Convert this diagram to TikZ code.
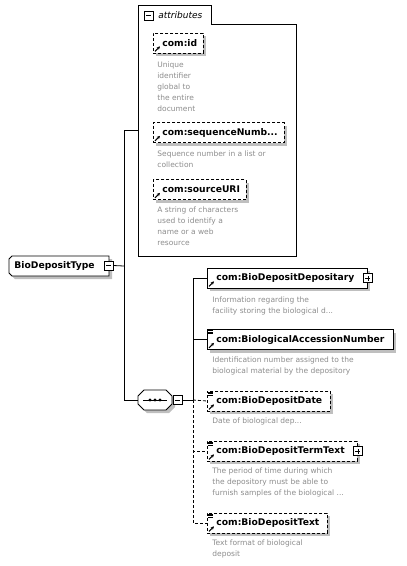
\documentclass[tikz,border=0pt]{standalone}
\usepackage{fontspec}
\setmainfont{DejaVu Sans}
\usetikzlibrary{shadows,arrows.meta}

\begin{document}
\begin{tikzpicture}[x=1pt, y=-1pt, line width=0.8pt]
  \tikzset{
    box_shadow/.style={general shadow={fill=black!25, shadow xshift=3pt, shadow yshift=-3pt}},
    elem_node/.style={rectangle, draw, fill=white, box_shadow, anchor=west, minimum height=20pt, inner xsep=0pt, inner ysep=0pt, text width=#1, align=left, font=\bfseries\fontsize{9.2}{10}\selectfont, execute at begin node={\hspace*{9pt}}},
    opt_node/.style={elem_node=#1, dash pattern=on 3pt off 2pt},
    desc_node/.style={anchor=north west, inner sep=0pt, align=left, text=black!45, font=\fontsize{7.5}{11}\selectfont},
    minus_node/.style={rectangle, draw, fill=white, line width=0.6pt, minimum size=9pt, inner sep=0pt,
      path picture={\draw[line width=0.6pt] ([xshift=2pt]path picture bounding box.west) -- ([xshift=-2pt]path picture bounding box.east);}},
    plus_node/.style={rectangle, draw, fill=white, line width=0.6pt, minimum size=9pt, inner sep=0pt,
      path picture={\draw[line width=0.6pt] ([xshift=2pt]path picture bounding box.west) -- ([xshift=-2pt]path picture bounding box.east)
        ([yshift=2pt]path picture bounding box.south) -- ([yshift=-2pt]path picture bounding box.north);}},
    shadow_fill/.style={fill=black!25, draw=none},
    link_arrow/.style={-{Stealth[length=3.2pt,width=3.2pt]}, line width=1pt}
  }
  \useasboundingbox (0,0) rectangle (407,566);

  % Tipo complejo
  \fill[shadow_fill] (15,259) -- (112,259) -- (112,279) -- (15,279) -- (12,276) -- (12,262) -- cycle;
  \draw[fill=white] (12,256) -- (109,256) -- (109,276) -- (12,276) -- (9,273) -- (9,259) -- cycle;
  \node[anchor=west, inner sep=0pt, font=\bfseries\fontsize{9.2}{10}\selectfont] (bio_type) at (14,266) {BioDepositType};
  \node[minus_node] (type_minus) at (108.5,265.5) {};

  % Marco de atributos
  \draw (138,256) -- (138,5) -- (211,5) -- (211,24) -- (296,24) -- (296,256) -- cycle;
  \node[minus_node] (attrs_minus) at (148.5,15.5) {};
  \node[anchor=west, inner sep=0pt, font=\itshape\fontsize{9}{10}\selectfont] (attrs_title) at (158,15) {attributes};
  \coordinate (attrs_in) at (138,130);

  % Atributos
  \node[opt_node=50pt] (id_attr) at (153,43) {com:id};
  \node[desc_node] (id_desc) at (157,61) {Unique\\identifier\\global to\\the entire\\document};
  \node[opt_node=131pt] (seq_num_attr) at (153,132.5) {com:sequenceNumb...};
  \node[desc_node] (seq_num_desc) at (157,150) {Sequence number in a list or\\collection};
  \node[opt_node=93pt] (source_uri_attr) at (153,189.5) {com:sourceURI};
  \node[desc_node] (source_uri_desc) at (157,206) {A string of characters\\used to identify a\\name or a web\\resource};

  % Secuencia
  \fill[shadow_fill] (147,393) -- (169,393) -- (175,399) -- (175,407) -- (169,413) -- (147,413) -- (141,407) -- (141,399) -- cycle;
  \draw[fill=white] (144,390) -- (166,390) -- (172,396) -- (172,404) -- (166,410) -- (144,410) -- (138,404) -- (138,396) -- cycle;
  \node[inner sep=0pt, minimum width=34pt, minimum height=20pt] (seq_node) at (155,400) {};
  \draw ([xshift=-12pt]seq_node.center) -- ([xshift=12pt]seq_node.center);
  \foreach \dx in {-5,0,5}
    \fill ([xshift=\dx pt]seq_node.center) circle (1.6pt);
  \node[minus_node] (seq_minus) at (177.5,400) {};

  % Elementos hijos
  \node[elem_node=160pt] (depositary) at (207,278) {com:BioDepositDepositary};
  \node[plus_node] (depositary_plus) at (depositary.east) {};
  \node[desc_node] (depositary_desc) at (212,296) {Information regarding the\\facility storing the biological d...};
  \node[elem_node=186pt] (accession) at (207,339.5) {com:BiologicalAccessionNumber};
  \node[desc_node] (accession_desc) at (212,356) {Identification number assigned to the\\biological material by the depository};
  \node[opt_node=123pt] (deposit_date) at (207,401) {com:BioDepositDate};
  \node[desc_node] (deposit_date_desc) at (212,417) {Date of biological dep...};
  \node[opt_node=150pt] (term_text) at (207,451) {com:BioDepositTermText};
  \node[plus_node] (term_plus) at (term_text.east) {};
  \node[desc_node] (term_text_desc) at (212,467) {The period of time during which\\the depository must be able to\\furnish samples of the biological ...};
  \node[opt_node=120pt] (deposit_text) at (207,523) {com:BioDepositText};
  \node[desc_node] (deposit_text_desc) at (212,539) {Text format of biological\\deposit};

  % Iconos
  \foreach \n in {id_attr,seq_num_attr,source_uri_attr,depositary,accession,deposit_date,term_text,deposit_text}
    \draw[link_arrow] ([shift={(2,-2)}]\n.south west) -- ++(5,-5);
  \foreach \n in {accession,deposit_date,term_text,deposit_text}
    \foreach \dy in {1.5,3,4.5}
      \draw[line width=0.5pt] ([shift={(1,\dy)}]\n.north west) -- ++(5,0);

  % Conexiones
  \coordinate (trunk) at (124,266);
  \coordinate (fork) at (193,400);
  \draw (type_minus.east) -- (trunk);
  \draw (trunk) |- (attrs_in);
  \draw (trunk) |- (seq_node.west);
  \draw (seq_minus.east) -- (fork);
  \draw (fork) |- (depositary.west);
  \draw (fork) |- (accession.west);
  \draw[dash pattern=on 3pt off 2pt] (fork) -- (deposit_date.west);
  \draw[dash pattern=on 3pt off 2pt] (fork) |- (term_text.west);
  \draw[dash pattern=on 3pt off 2pt] (fork) |- (deposit_text.west);
\end{tikzpicture}
\end{document}
